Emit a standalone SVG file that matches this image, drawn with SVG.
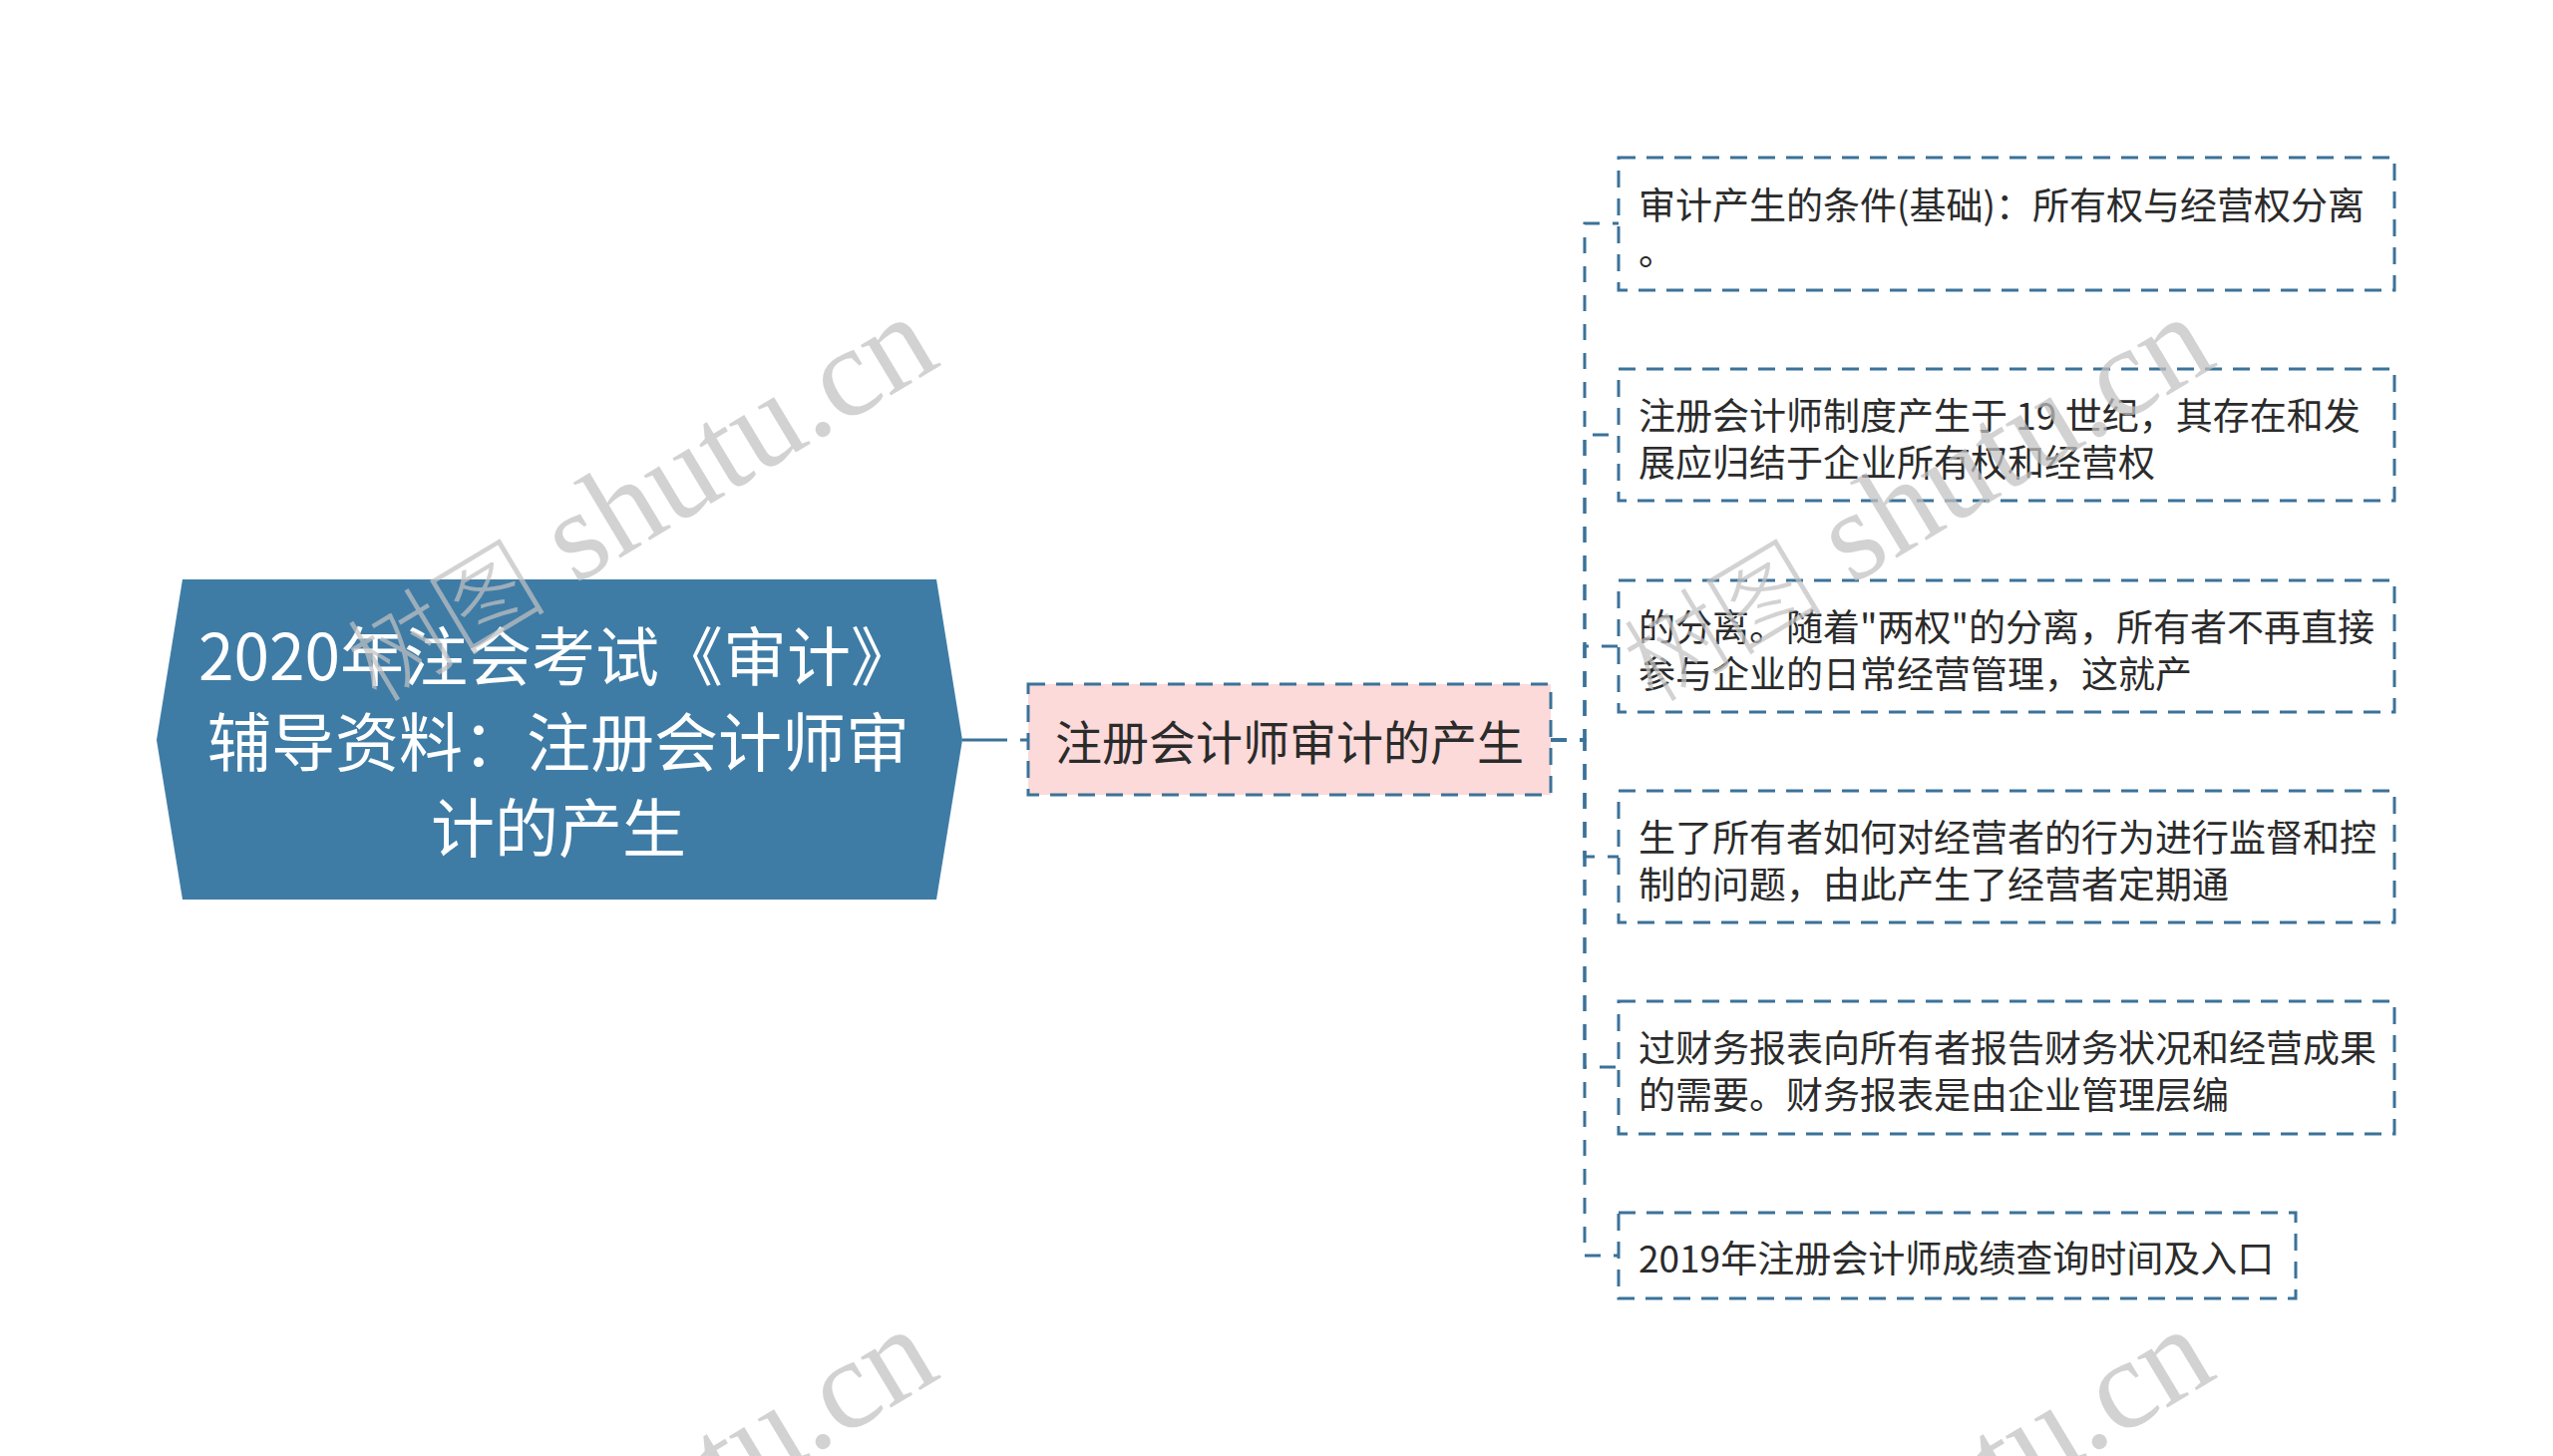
<svg xmlns="http://www.w3.org/2000/svg" width="2560" height="1460" viewBox="0 0 2560 1460">
<style>
.cjk{font-family:"Noto Sans CJK SC","Noto Sans",sans-serif;}
.root-t{font-size:64px;fill:#ffffff;text-anchor:middle;dominant-baseline:central;}
.mid-t{font-size:47px;fill:#2b2b2b;text-anchor:middle;dominant-baseline:central;}
.leaf-t{font-size:37px;fill:#2b2b2b;dominant-baseline:central;}
.leaf{fill:#ffffff;stroke:#3b7299;stroke-width:3;stroke-dasharray:17 11;}
.mid{fill:#fbdad9;stroke:#3b7299;stroke-width:3;stroke-dasharray:17 11;}
.conn{fill:none;stroke:#3b7299;stroke-width:3;stroke-dasharray:16 13;}
.wm{font-family:"Liberation Serif","Noto Sans CJK SC",serif;font-size:128px;fill:#c2c2c2;opacity:0.72;}
.wm-cjk{font-family:"Noto Sans CJK SC",sans-serif;font-size:100px;font-weight:300;}
</style>
<rect width="2560" height="1460" fill="#ffffff"/>
<g id="connectors">
<path d="M965,742 H1031" fill="none" stroke="#3b7299" stroke-width="3" stroke-dasharray="45 13 30"/>
<path class="conn" d="M1555,742 H1589 V224 H1623"/>
<path class="conn" d="M1555,742 H1589 V436 H1623"/>
<path class="conn" d="M1555,742 H1589 V648 H1623"/>
<path class="conn" d="M1555,742 H1589 V859 H1623"/>
<path class="conn" d="M1555,742 H1589 V1070 H1623"/>
<path class="conn" d="M1555,742 H1589 V1259 H1623"/>
</g>
<g id="root">
<polygon points="183,581 939,581 965,742 939,902 183,902 157,742" fill="#3e7ca6"/>
<text class="cjk root-t" x="558" y="654">2020年注会考试《审计》</text>
<text class="cjk root-t" x="560" y="740">辅导资料：注册会计师审</text>
<text class="cjk root-t" x="560" y="826">计的产生</text>
</g>
<g id="mid">
<rect class="mid" x="1031" y="686" width="524" height="111"/>
<text class="cjk mid-t" x="1293" y="741">注册会计师审计的产生</text>
</g>
<g id="leaf1">
<rect class="leaf" x="1623" y="158" width="778" height="133"/>
<text class="cjk leaf-t" x="1643" y="204">审计产生的条件(基础)：所有权与经营权分离</text>
<text class="cjk leaf-t" x="1643" y="250">。</text>
</g>
<g id="leaf2">
<rect class="leaf" x="1623" y="370" width="778" height="132"/>
<text class="cjk leaf-t" x="1643" y="415">注册会计师制度产生于 19 世纪，其存在和发</text>
<text class="cjk leaf-t" x="1643" y="462">展应归结于企业所有权和经营权</text>
</g>
<g id="leaf3">
<rect class="leaf" x="1623" y="582" width="778" height="132"/>
<text class="cjk leaf-t" x="1643" y="627">的分离。随着"两权"的分离，所有者不再直接</text>
<text class="cjk leaf-t" x="1643" y="674">参与企业的日常经营管理，这就产</text>
</g>
<g id="leaf4">
<rect class="leaf" x="1623" y="793" width="778" height="132"/>
<text class="cjk leaf-t" x="1643" y="838">生了所有者如何对经营者的行为进行监督和控</text>
<text class="cjk leaf-t" x="1643" y="885">制的问题，由此产生了经营者定期通</text>
</g>
<g id="leaf5">
<rect class="leaf" x="1623" y="1004" width="778" height="133"/>
<text class="cjk leaf-t" x="1643" y="1049">过财务报表向所有者报告财务状况和经营成果</text>
<text class="cjk leaf-t" x="1643" y="1096">的需要。财务报表是由企业管理层编</text>
</g>
<g id="leaf6">
<rect class="leaf" x="1623" y="1216" width="679" height="86"/>
<text class="cjk leaf-t" x="1643" y="1260">2019年注册会计师成绩查询时间及入口</text>
</g>
<g id="watermarks">
<text class="wm" transform="translate(378,706) rotate(-31)"><tspan class="wm-cjk">树图</tspan> shutu.cn</text>
<text class="wm" transform="translate(1658,706) rotate(-31)"><tspan class="wm-cjk">树图</tspan> shutu.cn</text>
<text class="wm" transform="translate(378,1721) rotate(-31)"><tspan class="wm-cjk">树图</tspan> shutu.cn</text>
<text class="wm" transform="translate(1658,1721) rotate(-31)"><tspan class="wm-cjk">树图</tspan> shutu.cn</text>
</g>
</svg>
